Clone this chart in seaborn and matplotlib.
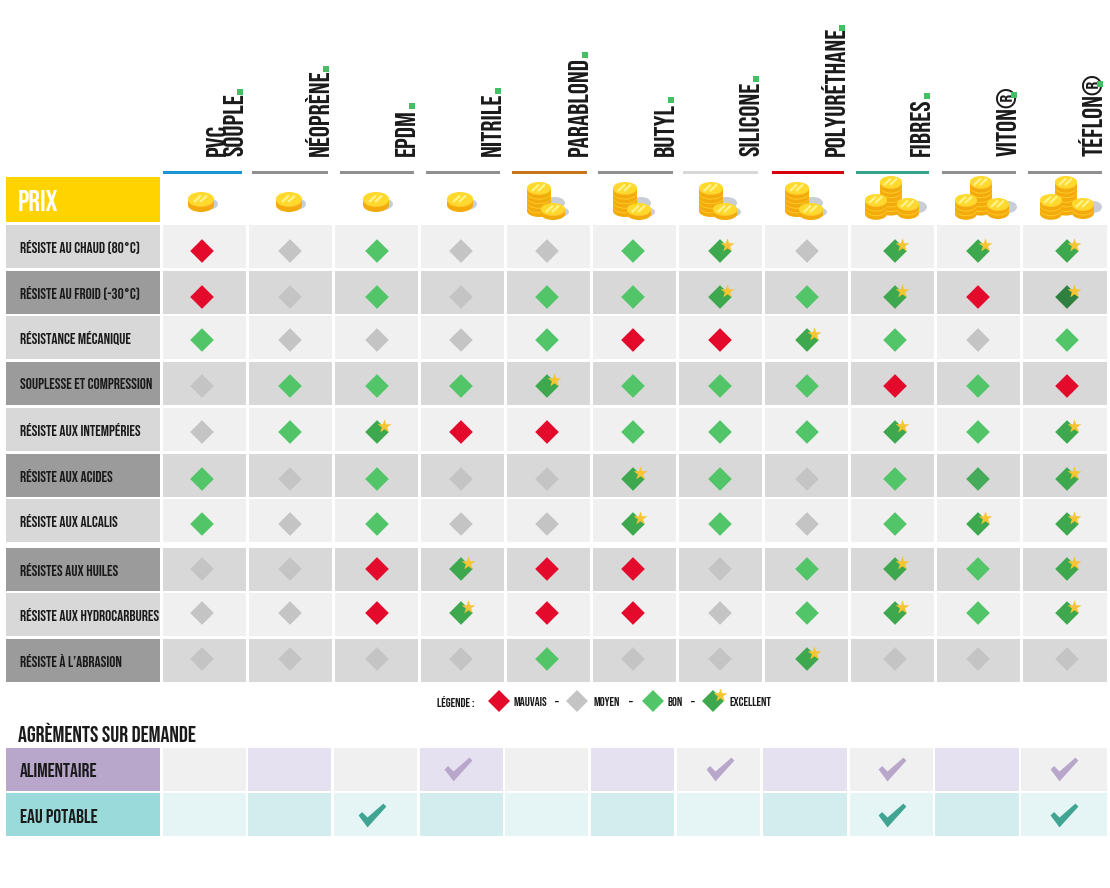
#! /bin/env python3

'''
Material comparison table: gasket materials against resistance criteria
'''

import pandas as pd
import matplotlib.pyplot as plt
from matplotlib.patches import Ellipse, Rectangle
from matplotlib.path import Path

import seaborn as sns

materials = ['PVC\nSOUPLE', 'NÉOPRÈNE', 'EPDM', 'NITRILE', 'PARABLOND', 'BUTYL',
             'SILICONE', 'POLYURÉTHANE', 'FIBRES', 'VITON®', 'TÉFLON®']
criteria = ['RÉSISTE AU CHAUD (80°C)', 'RÉSISTE AU FROID (-30°C)', 'RÉSISTANCE MÉCANIQUE',
            'SOUPLESSE ET COMPRESSION', 'RÉSISTE AUX INTEMPÉRIES', 'RÉSISTE AUX ACIDES',
            'RÉSISTE AUX ALCALIS', 'RÉSISTES AUX HUILES', 'RÉSISTE AUX HYDROCARBURES',
            'RÉSISTE À L’ABRASION']

price_level = [1, 1, 1, 1, 2, 2, 2, 2, 3, 3, 3]

# M mauvais, O moyen, B bon, E excellent, C/F darker prints of bon/excellent
chaud = list('MOBOOBEOEEE')
froid = list('MOBOBBEBEMF')
mecanique = list('BOOOBMMEBOB')
souplesse = list('OBBBEBBBMBM')
intemperies = list('OBEMMBBBEBE')
acides = list('BOBOOEBOBCE')
alcalis = list('BOBOOEBOBEE')
huiles = list('OOMEMMOBEBE')
hydrocarbures = list('OOMEMMOBEBE')
abrasion = list('OOOOBOOEOOO')
ratings = [chaud, froid, mecanique, souplesse, intemperies, acides, alcalis,
           huiles, hydrocarbures, abrasion]

alimentaire = [0, 0, 0, 1, 0, 0, 1, 0, 1, 0, 1]
eau_potable = [0, 0, 1, 0, 0, 0, 0, 0, 1, 0, 1]

rule_colors = ['#1a96d4', '#8f8f8f', '#8f8f8f', '#8f8f8f', '#c8741a', '#8f8f8f',
               '#d8d8d8', '#d9000d', '#34a58a', '#8f8f8f', '#8f8f8f']
rating_colors = {'M': '#e30a2c', 'O': '#c4c4c4', 'B': '#52c568', 'E': '#3da84e',
                 'C': '#45ab5a', 'F': '#2f8040'}

# layout, in pixels of the 1110x888 picture
col_left = [163, 249, 335, 421, 507, 593, 679, 765, 851, 937, 1023]
col_right = [246, 332, 418, 504, 590, 676, 762, 848, 934, 1020, 1107]
app_left = [163, 248, 334, 420, 505, 591, 677, 763, 850, 935, 1021]
app_right = [246, 331, 417, 503, 588, 674, 760, 847, 933, 1019, 1107]
row_top = [225, 271, 316, 362, 408, 454, 499, 548, 593, 639]
row_h = 43
mark_x = [202, 290, 377, 461, 547, 633, 720, 807, 895, 978, 1067]
mark_y = [251, 297, 340, 386, 432, 479, 524, 569, 613, 659]
rule_x0 = [163, 252, 340, 426, 512, 598, 683, 772, 856, 942, 1028]
rule_x1 = [242, 328, 414, 500, 587, 673, 758, 844, 929, 1016, 1102]
coin_x = [201, 289, 376, 460, 539, 625, 711, 797, 891, 981, 1066]
dot_y = [92, 69, 106, 91, 55, 100, 79, 28, 96, 95, 84]
check_x = [202, 290, 372, 458, 547, 633, 720, 807, 892, 978, 1064]

plt.rcParams['font.family'] = ['Bebas Neue', 'Liberation Sans Narrow', 'Roboto Condensed',
                               'Liberation Sans', 'DejaVu Sans']

fig = plt.figure(figsize=(11.1, 8.88), dpi=100)
ax = fig.add_axes([0, 0, 1, 1])


def cell(x0, y0, x1, y1, color, zorder=1):
    ax.add_patch(Rectangle((x0, y0), x1 - x0, y1 - y0, facecolor=color, edgecolor='none', zorder=zorder))


def coin_stack(cx, top_y, n, rx=11, ry=6, h=5.5):
    # n layers, the top disc sits at top_y
    for i in range(n - 1, -1, -1):
        y = top_y + i * h
        ax.add_patch(Ellipse((cx, y + h), 2 * rx, 2 * ry, color='#f2ab0a', lw=0, zorder=5))
        ax.add_patch(Rectangle((cx - rx, y), 2 * rx, h, color='#f2ab0a', lw=0, zorder=5))
        ax.add_patch(Ellipse((cx, y + 1), 2 * rx, 2 * ry, color='#ffc92c', lw=0, zorder=5))
    ax.add_patch(Ellipse((cx, top_y), 2 * rx, 2 * ry, color='#ffd92e', lw=0, zorder=5))
    for off in (-3, 3):
        ax.plot([cx + off - 4, cx + off + 3], [top_y + 3, top_y - 3.5], color='#fff38a', lw=1.6,
                solid_capstyle='butt', zorder=6)


def shadow(cx, cy, rx, ry):
    ax.add_patch(Ellipse((cx, cy), 2 * rx, 2 * ry, color='#c9cdd6', lw=0, zorder=4))


def draw_coins(x, level):
    if level == 1:
        shadow(x + 6, 204, 11, 6)
        coin_stack(x, 199, 1, rx=13, ry=7, h=6)
    elif level == 2:
        shadow(x + 16, 203, 10, 6)
        coin_stack(x, 188, 5, rx=12, ry=6, h=4.6)
        shadow(x + 20, 212, 10, 5)
        coin_stack(x + 14, 209, 1, rx=12, ry=6, h=5)
    else:
        shadow(x + 27, 207, 9, 6)
        coin_stack(x, 182, 6, rx=11, ry=6, h=4.6)
        coin_stack(x + 17, 204, 2, rx=11, ry=6, h=4.5)
        coin_stack(x - 15, 200, 3, rx=11, ry=6, h=4.6)


# cells and row headers
cell(6, 177, 160, 222, '#ffd300')
for r, top in enumerate(row_top):
    dark = r % 2 == 1
    cell(6, top, 160, top + row_h, '#9b9b9b' if dark else '#d8d8d8')
    for x0, x1 in zip(col_left, col_right):
        cell(x0, top, x1, top + row_h, '#d8d8d8' if dark else '#f0f0f0')

cell(6, 748, 160, 791, '#b8a6cb')
cell(6, 793, 160, 836, '#9adada')
for c, (x0, x1) in enumerate(zip(app_left, app_right)):
    cell(x0, 748, x1, 791, '#e6e1f0' if c % 2 else '#f0f0f0')
    cell(x0, 793, x1, 836, '#d3edee' if c % 2 else '#e5f5f6')

# column headers
for name, x0, x1, color in zip(materials, rule_x0, rule_x1, rule_colors):
    ax.add_patch(Rectangle((x0, 171), x1 - x0, 3, facecolor=color, edgecolor='none'))
    ax.text(x1 + 1, 156, name, rotation=90, ha='left', va='bottom', fontsize=20,
            linespacing=0.85, multialignment='left', color='#1a1a1a', rotation_mode='anchor')

dots = pd.DataFrame({'x': [x - 2 for x in rule_x1], 'y': dot_y})
sns.scatterplot(data=dots, x='x', y='y', ax=ax, marker='s', s=13, color='#45bf63', linewidth=0, zorder=3)

for x, level in zip(coin_x, price_level):
    draw_coins(x, level)

# rating marks
long_rows = []
for r, row in enumerate(ratings):
    for c, value in enumerate(row):
        long_rows.append({'x': mark_x[c], 'y': mark_y[r], 'rating': value})
marks = pd.DataFrame(long_rows)

legend_marks = pd.DataFrame({'x': [499, 577, 653, 713], 'y': [701] * 4, 'rating': ['M', 'O', 'B', 'E']})

sns.scatterplot(data=marks, x='x', y='y', hue='rating', palette=rating_colors, marker='D', s=145,
                linewidth=0, ax=ax, legend=False, zorder=7)
sns.scatterplot(data=legend_marks, x='x', y='y', hue='rating', palette=rating_colors, marker='D', s=125,
                linewidth=0, ax=ax, legend=False, zorder=7)

stars = pd.concat([marks, legend_marks])
stars = stars[stars['rating'].isin(['E', 'F'])]
sns.scatterplot(x=stars['x'] + 7, y=stars['y'] - 6, marker='*', s=110, color='#f7c531', linewidth=0,
                ax=ax, zorder=8)

# approvals
check = Path([(-14, 0), (-10.5, 3.5), (-5, -2), (11, 12), (14, 9), (-5, -12), (-14, 0)], closed=True)
for flags, y, color in [(alimentaire, 769, '#b9a6cb'), (eau_potable, 815, '#3fa592')]:
    xs = [x for x, f in zip(check_x, flags) if f]
    sns.scatterplot(x=xs, y=[y] * len(xs), marker=check, s=400, color=color, linewidth=0, ax=ax, zorder=7)

# text
ax.text(18, 200, 'PRIX', color='white', fontsize=21, va='center', ha='left')
for name, top in zip(criteria, row_top):
    ax.text(20, top + row_h / 2, name, fontsize=11, va='center', ha='left', color='#1a1a1a', zorder=3)
ax.text(18, 732, 'AGRÈMENTS SUR DEMANDE', fontsize=16, va='center', ha='left', color='#1a1a1a')
ax.text(20, 770, 'ALIMENTAIRE', fontsize=14, va='center', ha='left', color='#1a1a1a')
ax.text(20, 816, 'EAU POTABLE', fontsize=14, va='center', ha='left', color='#1a1a1a')

for s, x in [('LÉGENDE :', 437), ('MAUVAIS', 513), ('–', 555), ('MOYEN', 594), ('–', 629),
             ('BON', 668), ('–', 691), ('EXCELLENT', 729)]:
    ax.text(x, 701, s, fontsize=9, va='center', ha='left', color='#1a1a1a')

ax.set_xlim(0, 1110)
ax.set_ylim(888, 0)
ax.axis('off')

fig.savefig('out.png', dpi=100)
